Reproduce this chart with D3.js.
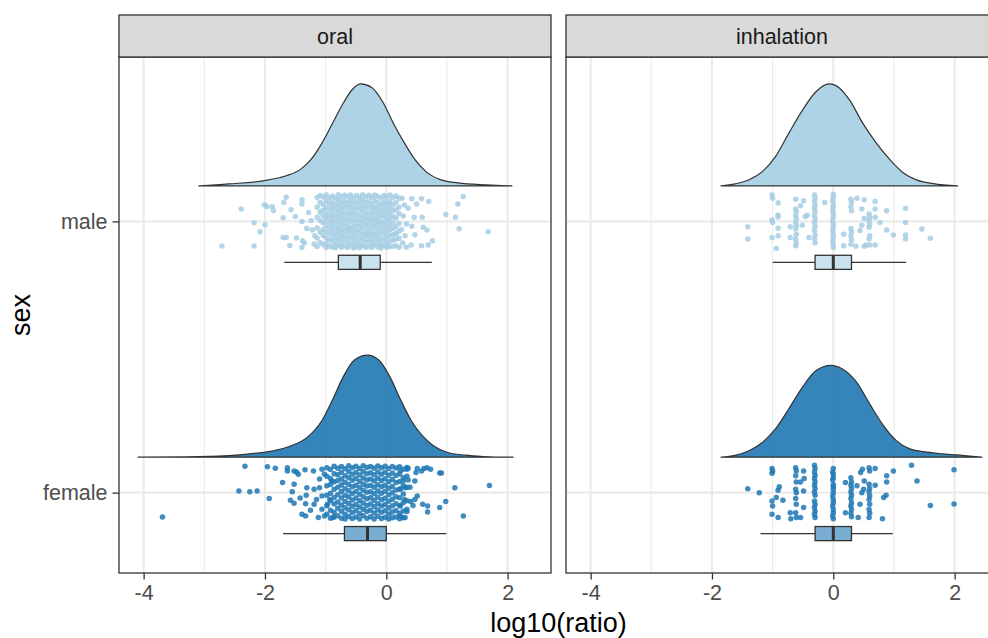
<!DOCTYPE html>
<html>
<head>
<meta charset="utf-8">
<script src="https://cdn.jsdelivr.net/npm/d3@7"></script>
<style>
  html, body { margin: 0; padding: 0; background: #fff; }
  svg { display: block; font-family: "Liberation Sans", Arial, sans-serif; }
</style>
</head>
<body>
<svg id="chart" width="988" height="638"></svg>
<script>
// ---------------- data ----------------
const routes = ["oral", "inhalation"];
const sexes = ["female", "male"];          // y position 1, 2
const xTicks = [-4, -2, 0, 2];
const xMinorTicks = [-3, -1, 1];

// five-number summaries: [lower whisker, q1, median, q3, upper whisker]
const boxOralMale = [-1.68, -0.79, -0.43, -0.10, 0.75];
const boxOralFemale = [-1.70, -0.69, -0.31, 0.00, 0.99];
const boxInhalMale = [-1.00, -0.30, 0.00, 0.30, 1.20];
const boxInhalFemale = [-1.20, -0.30, 0.00, 0.30, 0.98];

// half-violin density profiles: [log10(ratio), density relative to the largest peak]
const densOralMale = [[-3.09,0],[-2.6,0.02],[-2.01,0.052],[-1.65,0.10],[-1.42,0.16],[-1.24,0.26],[-1.06,0.42],[-0.89,0.61],[-0.71,0.81],[-0.56,0.945],[-0.42,1.0],[-0.24,0.964],[-0.06,0.825],[0.12,0.61],[0.30,0.42],[0.47,0.26],[0.65,0.143],[0.89,0.062],[1.18,0.03],[1.65,0.01],[2.07,0]];
const densOralFemale = [[-4.09,0],[-3.31,0.003],[-2.60,0.016],[-2.25,0.033],[-1.89,0.06],[-1.60,0.105],[-1.30,0.197],[-1.06,0.36],[-0.89,0.557],[-0.71,0.787],[-0.53,0.95],[-0.31,1.0],[-0.12,0.95],[0.06,0.787],[0.24,0.557],[0.41,0.36],[0.59,0.213],[0.77,0.115],[1.0,0.049],[1.3,0.02],[1.6,0.007],[2.09,0]];
const densInhalMale = [[-1.85,0],[-1.62,0.02],[-1.39,0.06],[-1.17,0.14],[-0.95,0.29],[-0.73,0.52],[-0.51,0.74],[-0.29,0.92],[-0.07,1.0],[0.10,0.96],[0.27,0.84],[0.49,0.61],[0.71,0.42],[0.93,0.26],[1.15,0.13],[1.37,0.06],[1.65,0.023],[2.05,0]];
const densInhalFemale = [[-1.85,0],[-1.62,0.018],[-1.39,0.063],[-1.17,0.144],[-0.95,0.279],[-0.73,0.477],[-0.51,0.684],[-0.29,0.846],[-0.04,0.9],[0.15,0.864],[0.38,0.738],[0.60,0.522],[0.82,0.315],[1.04,0.162],[1.26,0.081],[1.54,0.05],[1.81,0.032],[2.15,0.016],[2.45,0]];

// observations: [log10(ratio), vertical jitter]
const ptsOralMale = [
  [-2.39,0.046],[-2.71,-0.091],[-2.18,-0.091],[-2.01,0.061],[-1.97,0.055],[-1.88,0.054],[-1.86,0.039],
  [-1.65,0.089],[-1.69,0.070],[-1.39,0.080],[-1.39,0.064],[-1.57,0.043],[-1.70,0.013],[-1.50,0.018],
  [-1.28,0.033],[-2.18,-0.005],[-2.00,-0.012],[-2.08,-0.038],[-1.70,-0.059],[-1.65,-0.059],[-1.48,-0.061],
  [-1.39,0.000],[-1.24,0.003],[-1.31,-0.026],[-1.22,-0.032],[-1.38,-0.071],[-1.35,-0.080],[-1.59,-0.089],
  [-1.39,-0.096],[-1.19,-0.083],[-1.18,-0.053],
  [1.27,0.092],[1.18,0.064],[0.98,0.025],[1.14,0.015],[1.20,-0.027],[1.68,-0.038],[0.42,0.083],[0.58,0.083],
  [0.70,0.073],[0.50,0.064],[0.36,0.048],[0.46,0.015],[0.59,0.015],[0.42,-0.018],[0.61,-0.022],[0.67,-0.032],
  [0.47,-0.049],[0.41,-0.087],[0.58,-0.090],[0.69,-0.087],[0.76,-0.071],[0.15,-0.046],[0.31,-0.053],
  [0.26,0.085],[0.30,0.060],[0.28,0.020],[0.33,-0.010],[0.27,-0.080],[0.33,-0.095],[0.25,-0.030]
];
// dense centre of the oral / male cloud: [log10(ratio), [jitters...]]
const coreOralMale = [
  [-1.14,[0.088,0.052,0.015,-0.024,-0.061,-0.093]],
  [-1.09,[0.095,0.070,0.034,0.002,-0.040,-0.078]],
  [-1.04,[0.090,0.062,0.041,0.020,-0.005,-0.030,-0.052,-0.085]],
  [-0.99,[0.097,0.075,0.049,0.027,0.008,-0.015,-0.038,-0.060,-0.081,-0.096]],
  [-0.94,[0.086,0.064,0.043,0.020,-0.001,-0.022,-0.044,-0.067,-0.090]],
  [-0.89,[0.094,0.071,0.052,0.030,0.011,-0.010,-0.031,-0.050,-0.072,-0.094]],
  [-0.84,[0.087,0.064,0.043,0.022,0.001,-0.020,-0.041,-0.061,-0.082,-0.097]],
  [-0.79,[0.098,0.079,0.058,0.036,0.016,-0.004,-0.026,-0.045,-0.066,-0.088]],
  [-0.74,[0.090,0.069,0.047,0.026,0.006,-0.015,-0.036,-0.056,-0.077,-0.095]],
  [-0.69,[0.096,0.075,0.055,0.033,0.013,-0.007,-0.028,-0.048,-0.069,-0.091]],
  [-0.64,[0.092,0.068,0.049,0.028,0.005,-0.017,-0.035,-0.058,-0.079,-0.096]],
  [-0.59,[0.097,0.077,0.054,0.034,0.018,-0.002,-0.024,-0.044,-0.064,-0.086]],
  [-0.54,[0.089,0.066,0.045,0.024,0.003,-0.019,-0.039,-0.059,-0.080,-0.098]],
  [-0.49,[0.095,0.073,0.051,0.031,0.010,-0.011,-0.032,-0.052,-0.073,-0.093]],
  [-0.44,[0.088,0.067,0.046,0.023,0.002,-0.018,-0.040,-0.062,-0.083,-0.097]],
  [-0.39,[0.098,0.078,0.057,0.037,0.015,-0.005,-0.025,-0.047,-0.067,-0.089]],
  [-0.34,[0.091,0.070,0.048,0.027,0.007,-0.014,-0.037,-0.055,-0.076,-0.095]],
  [-0.29,[0.096,0.074,0.056,0.032,0.012,-0.008,-0.029,-0.049,-0.070,-0.092]],
  [-0.24,[0.089,0.065,0.044,0.025,0.004,-0.016,-0.038,-0.057,-0.078,-0.096]],
  [-0.19,[0.097,0.076,0.053,0.035,0.014,-0.003,-0.023,-0.046,-0.065,-0.087]],
  [-0.14,[0.092,0.069,0.050,0.029,0.009,-0.012,-0.033,-0.053,-0.074,-0.094]],
  [-0.09,[0.087,0.063,0.042,0.021,0.000,-0.021,-0.042,-0.063,-0.084,-0.098]],
  [-0.04,[0.095,0.074,0.056,0.034,0.017,-0.006,-0.027,-0.046,-0.068,-0.090]],
  [0.01,[0.090,0.066,0.045,0.024,0.004,-0.017,-0.036,-0.058,-0.079,-0.096]],
  [0.06,[0.097,0.072,0.051,0.030,0.010,-0.011,-0.031,-0.051,-0.072,-0.093]],
  [0.11,[0.088,0.061,0.040,0.018,-0.005,-0.026,-0.049,-0.070,-0.092]],
  [0.16,[0.094,0.070,0.043,0.012,-0.020,-0.045,-0.066,-0.090]],
  [0.21,[0.085,0.052,0.028,-0.008,-0.036,-0.062,-0.095]]
];

const ptsOralFemale = [
  [-3.69,-0.090],[-2.33,0.097],[-2.43,0.006],[-2.25,0.003],[-2.13,0.006],[-1.96,0.095],[-1.83,0.090],
  [-1.93,-0.022],[-1.71,0.037],[-1.63,0.092],[-1.63,0.080],[-1.52,0.080],[-1.48,0.076],[-1.45,0.068],
  [-1.34,0.084],[-1.52,0.031],[-1.55,0.003],[-1.31,0.018],[-1.32,-0.010],[-1.42,-0.020],[-1.58,-0.028],
  [-1.52,-0.039],[-1.33,-0.041],[-1.39,-0.080],[-1.33,-0.086],
  [-1.20,0.080],[-1.06,0.086],[-1.02,0.068],[-0.90,0.043],[-1.19,0.012],[-1.10,0.018],[-1.15,-0.025],
  [-1.06,-0.012],[-0.93,-0.025],[-1.19,-0.043],[-1.06,-0.061],[-0.97,-0.043],[-1.12,-0.092],[-1.02,-0.086],
  [-0.88,-0.092],[-1.25,-0.065],[-1.10,0.050],
  [0.23,0.080],[0.34,0.086],[0.28,0.043],[0.36,0.047],[0.23,0.012],[0.31,0.018],[0.30,-0.025],[0.40,-0.033],
  [0.23,-0.049],[0.34,-0.061],[0.23,-0.086],[0.31,-0.092],[0.39,0.020],
  [1.27,-0.086],[1.13,0.018],[0.98,-0.033],[0.88,0.072],[0.91,0.072],[0.88,-0.055],[0.68,-0.049],
  [0.68,-0.071],[0.60,-0.043],[0.51,-0.012],[0.47,-0.025],[0.44,-0.047],[0.73,0.086],[0.62,0.089],
  [0.58,0.080],[0.67,0.092],[0.47,0.043],[0.49,0.074],[0.51,0.089],[0.36,0.090],[1.70,0.026]
];
const coreOralFemale = [
  [-0.98,[0.092,0.060,0.025,-0.010,-0.048,-0.080]],
  [-0.92,[0.085,0.052,0.030,-0.002,-0.030,-0.065,-0.094]],
  [-0.86,[0.097,0.070,0.040,0.012,-0.018,-0.042,-0.072,-0.090]],
  [-0.80,[0.090,0.066,0.045,0.020,-0.008,-0.035,-0.058,-0.085]],
  [-0.74,[0.096,0.075,0.050,0.028,0.004,-0.020,-0.046,-0.069,-0.094]],
  [-0.68,[0.088,0.062,0.038,0.014,-0.010,-0.033,-0.056,-0.080,-0.097]],
  [-0.62,[0.099,0.078,0.055,0.030,0.007,-0.016,-0.040,-0.063,-0.088]],
  [-0.56,[0.092,0.068,0.046,0.022,-0.003,-0.027,-0.050,-0.073,-0.095]],
  [-0.50,[0.097,0.074,0.052,0.027,0.004,-0.020,-0.044,-0.066,-0.090]],
  [-0.44,[0.089,0.065,0.041,0.018,-0.006,-0.030,-0.053,-0.077,-0.097]],
  [-0.38,[0.099,0.077,0.054,0.031,0.009,-0.015,-0.038,-0.061,-0.085]],
  [-0.32,[0.093,0.070,0.047,0.024,0.001,-0.023,-0.047,-0.070,-0.094]],
  [-0.26,[0.096,0.073,0.050,0.026,0.003,-0.019,-0.042,-0.065,-0.089]],
  [-0.20,[0.090,0.066,0.043,0.020,-0.004,-0.028,-0.051,-0.075,-0.097]],
  [-0.14,[0.098,0.076,0.053,0.029,0.006,-0.017,-0.041,-0.064,-0.087]],
  [-0.08,[0.092,0.068,0.045,0.022,-0.002,-0.026,-0.049,-0.072,-0.095]],
  [-0.02,[0.097,0.075,0.051,0.027,0.005,-0.021,-0.044,-0.067,-0.091]],
  [0.04,[0.089,0.064,0.040,0.016,-0.008,-0.032,-0.056,-0.079,-0.097]],
  [0.10,[0.096,0.072,0.048,0.023,0.000,-0.024,-0.048,-0.071,-0.093]],
  [0.16,[0.091,0.063,0.037,0.010,-0.015,-0.041,-0.066,-0.090]],
  [0.22,[0.095,0.069,0.041,0.013,-0.019,-0.047,-0.076,-0.096]],
  [0.28,[0.086,0.055,0.025,-0.005,-0.037,-0.068,-0.093]],
  [0.34,[0.093,0.060,0.020,-0.030,-0.070]]
];

const ptsInhalMale = [
  [-1.41,-0.020],[-1.41,-0.065],
  [-1.01,0.097],[-1.00,0.085],[-1.01,0.005],[-1.00,-0.004],[-1.01,-0.059],[-0.94,-0.100],
  [-0.91,0.068],[-0.91,0.023],[-0.91,0.016],[-0.91,-0.025],[-0.91,-0.053],
  [-0.71,-0.020],[-0.71,-0.059],
  [-0.62,0.082],[-0.62,0.046],[-0.61,0.036],[-0.62,0.023],[-0.61,0.011],[-0.62,-0.004],[-0.61,-0.016],
  [-0.62,-0.028],[-0.61,-0.047],[-0.62,-0.065],[-0.61,-0.080],[-0.62,-0.090],
  [-0.54,0.058],[-0.49,0.076],[-0.51,-0.014],[-0.46,0.018],[-0.40,-0.059],[-0.43,0.023],
  [-0.31,0.097],[-0.30,0.085],[-0.31,0.073],[-0.30,0.060],[-0.31,0.048],[-0.30,0.036],[-0.31,0.021],
  [-0.30,0.009],[-0.31,-0.004],[-0.30,-0.018],[-0.31,-0.034],[-0.30,-0.050],[-0.31,-0.065],[-0.30,-0.080],
  [-0.14,0.070],
  [0.00,0.100],[0.00,0.089],[-0.01,0.076],[0.00,0.064],[0.00,0.052],[-0.01,0.039],[0.00,0.027],[0.00,0.015],
  [-0.01,0.002],[0.00,-0.010],[0.00,-0.022],[-0.01,-0.034],[0.00,-0.047],[0.00,-0.059],[-0.01,-0.071],
  [0.00,-0.084],[0.00,-0.096],
  [0.17,-0.047],[0.17,-0.090],
  [0.29,0.082],[0.30,0.070],[0.29,0.055],[0.30,0.039],[0.29,-0.026],[0.30,-0.038],[0.29,-0.053],
  [0.30,-0.068],[0.29,-0.084],
  [0.39,0.085],[0.47,0.046],[0.37,-0.092],[0.44,-0.034],[0.47,-0.014],[0.51,0.080],[0.51,0.011],[0.51,-0.092],
  [0.59,0.027],[0.60,0.015],[0.59,0.002],[0.60,-0.010],[0.59,-0.022],[0.60,-0.053],[0.59,-0.065],
  [0.60,-0.087],[0.54,-0.087],
  [0.69,0.073],[0.69,0.046],[0.69,0.015],[0.69,-0.087],[0.77,-0.004],[0.88,0.039],[0.88,-0.032],[0.99,-0.050],
  [1.19,0.048],[1.19,-0.004],[1.19,-0.050],[1.19,-0.065],
  [1.46,-0.028],[1.60,-0.062]
];

const ptsInhalFemale = [
  [-1.41,0.014],[-1.22,0.000],
  [-1.01,0.089],[-1.00,0.080],[-1.01,0.071],[-1.01,-0.031],[-1.00,-0.049],[-1.01,-0.080],
  [-0.94,-0.018],[-0.91,0.009],[-0.89,0.022],[-0.91,-0.092],[-0.83,-0.028],
  [-0.62,0.092],[-0.61,0.080],[-0.62,0.062],[-0.61,0.039],[-0.62,0.012],[-0.61,0.000],[-0.62,-0.022],
  [-0.61,-0.043],[-0.62,-0.074],[-0.61,-0.092],
  [-0.71,-0.074],[-0.70,-0.096],[-0.54,-0.092],[-0.54,0.039],[-0.49,0.080],[-0.48,0.052],[-0.49,0.006],
  [-0.49,-0.055],
  [-0.31,0.101],[-0.30,0.089],[-0.31,0.076],[-0.30,0.064],[-0.31,0.052],[-0.30,0.039],[-0.31,0.027],
  [-0.30,0.015],[-0.31,0.002],[-0.30,-0.010],[-0.31,-0.031],[-0.30,-0.043],[-0.31,-0.055],[-0.30,-0.068],
  [-0.31,-0.080],[-0.30,-0.092],
  [0.00,0.089],[-0.01,0.076],[0.00,0.068],[0.00,0.055],[-0.01,0.047],[0.00,0.030],[0.00,0.022],[0.00,0.012],
  [0.00,0.000],[-0.01,-0.012],[0.00,-0.025],[0.00,-0.037],[-0.01,-0.049],[0.00,-0.062],[0.00,-0.074],
  [-0.01,-0.086],[0.00,-0.096],
  [0.20,0.037],[0.20,-0.074],
  [0.29,0.055],[0.30,0.039],[0.29,0.027],[0.30,0.015],[0.29,0.002],[0.30,-0.010],[0.29,-0.022],
  [0.30,-0.037],[0.29,-0.049],[0.30,-0.062],[0.29,-0.076],[0.30,-0.089],
  [0.39,0.025],[0.41,-0.092],[0.44,-0.043],[0.45,0.074],[0.48,0.086],[0.47,0.000],[0.51,0.043],[0.50,0.012],
  [0.59,0.092],[0.60,0.080],[0.59,0.031],[0.60,0.015],[0.59,0.002],[0.60,-0.012],[0.59,-0.025],
  [0.60,-0.043],[0.59,-0.062],[0.60,-0.076],[0.59,-0.092],
  [0.69,0.089],[0.69,0.027],[0.81,-0.096],[0.83,-0.018],[0.87,-0.010],[0.88,0.062],[0.88,0.039],[0.99,0.080],
  [1.29,0.101],[1.38,0.043],[1.60,-0.047],[1.99,0.084],[1.99,-0.042]
];

// ---------------- layout & style ----------------
const W = 988, H = 638;
const PANEL_LEFT = [119, 566];
const PANEL_W = 432;
const STRIP_TOP = 15, PANEL_TOP = 57, PANEL_BOTTOM = 573;
const X_DOMAIN = [-4.406, 2.715];
const Y_DOMAIN = [0.7037, 2.606];
const FILL = { male: "#A6CEE3", female: "#1F78B4" };
const DENS_BASE = 0.1306, DENS_HEIGHT = 0.3764;   // y units
const BOX_POS = -0.151, BOX_HALF = 0.026;
const PT_R = 2.75;
const INK = "#333333";

const groups = [
  { route: "oral", sex: "male", dens: densOralMale, box: boxOralMale, pts: ptsOralMale, core: coreOralMale },
  { route: "oral", sex: "female", dens: densOralFemale, box: boxOralFemale, pts: ptsOralFemale, core: coreOralFemale },
  { route: "inhalation", sex: "male", dens: densInhalMale, box: boxInhalMale, pts: ptsInhalMale, core: [] },
  { route: "inhalation", sex: "female", dens: densInhalFemale, box: boxInhalFemale, pts: ptsInhalFemale, core: [] }
];

const svg = d3.select("#chart");
svg.append("rect").attr("width", W).attr("height", H).attr("fill", "#fff");

const x = d3.scaleLinear().domain(X_DOMAIN).range([0, PANEL_W]);
const y = d3.scaleLinear().domain(Y_DOMAIN).range([PANEL_BOTTOM, PANEL_TOP]);
const sexPos = s => sexes.indexOf(s) + 1;

routes.forEach((route, pi) => {
  const g = svg.append("g").attr("transform", `translate(${PANEL_LEFT[pi]},0)`);

  // panel background + grid
  g.append("rect").attr("x", 0).attr("y", PANEL_TOP).attr("width", PANEL_W)
    .attr("height", PANEL_BOTTOM - PANEL_TOP).attr("fill", "#fff");
  g.selectAll(".minor").data(xMinorTicks).join("line")
    .attr("x1", d => x(d)).attr("x2", d => x(d))
    .attr("y1", PANEL_TOP).attr("y2", PANEL_BOTTOM)
    .attr("stroke", "#EBEBEB").attr("stroke-width", 1.1);
  g.selectAll(".major").data(xTicks).join("line")
    .attr("x1", d => x(d)).attr("x2", d => x(d))
    .attr("y1", PANEL_TOP).attr("y2", PANEL_BOTTOM)
    .attr("stroke", "#EBEBEB").attr("stroke-width", 2.1);
  g.selectAll(".hmajor").data(sexes).join("line")
    .attr("x1", 0).attr("x2", PANEL_W)
    .attr("y1", d => y(sexPos(d))).attr("y2", d => y(sexPos(d)))
    .attr("stroke", "#EBEBEB").attr("stroke-width", 2.1);

  groups.filter(d => d.route === route).forEach(grp => {
    const c = sexPos(grp.sex);
    const col = FILL[grp.sex];

    // half violin
    const area = d3.area()
      .x(d => x(d[0]))
      .y0(y(c + DENS_BASE))
      .y1(d => y(c + DENS_BASE + d[1] * DENS_HEIGHT))
      .curve(d3.curveMonotoneX);
    g.append("path").datum(grp.dens).attr("d", area)
      .attr("fill", col).attr("fill-opacity", 0.9)
      .attr("stroke", INK).attr("stroke-width", 1.2).attr("stroke-linejoin", "round");

    // jittered observations
    const pts = grp.pts.concat(grp.core.flatMap(([v, js]) => js.map(j => [v, j])));
    g.append("g").selectAll("circle").data(pts).join("circle")
      .attr("cx", d => x(d[0])).attr("cy", d => y(c + d[1]))
      .attr("r", PT_R).attr("fill", col).attr("fill-opacity", 0.85);

    // box plot
    const [lo, q1, med, q3, hi] = grp.box;
    const by = y(c + BOX_POS);
    const bg = g.append("g");
    bg.append("line").attr("x1", x(lo)).attr("x2", x(q1)).attr("y1", by).attr("y2", by)
      .attr("stroke", INK).attr("stroke-width", 1.2);
    bg.append("line").attr("x1", x(q3)).attr("x2", x(hi)).attr("y1", by).attr("y2", by)
      .attr("stroke", INK).attr("stroke-width", 1.2);
    bg.append("rect").attr("x", x(q1)).attr("width", x(q3) - x(q1))
      .attr("y", y(c + BOX_POS + BOX_HALF)).attr("height", y(c + BOX_POS - BOX_HALF) - y(c + BOX_POS + BOX_HALF))
      .attr("fill", col).attr("fill-opacity", 0.6)
      .attr("stroke", INK).attr("stroke-width", 1.3);
    bg.append("line").attr("x1", x(med)).attr("x2", x(med))
      .attr("y1", y(c + BOX_POS + BOX_HALF)).attr("y2", y(c + BOX_POS - BOX_HALF))
      .attr("stroke", INK).attr("stroke-width", 3);
  });

  // panel border
  g.append("rect").attr("x", 0).attr("y", PANEL_TOP).attr("width", PANEL_W)
    .attr("height", PANEL_BOTTOM - PANEL_TOP).attr("fill", "none")
    .attr("stroke", INK).attr("stroke-width", 1.3);

  // strip
  g.append("rect").attr("x", 0).attr("y", STRIP_TOP).attr("width", PANEL_W)
    .attr("height", PANEL_TOP - STRIP_TOP).attr("fill", "#D9D9D9")
    .attr("stroke", INK).attr("stroke-width", 1.3);
  g.append("text").attr("x", PANEL_W / 2).attr("y", (STRIP_TOP + PANEL_TOP) / 2 + 7.5)
    .attr("text-anchor", "middle").attr("font-size", 21.5).attr("fill", "#1A1A1A").text(route);

  // x axis
  const ax = g.append("g").attr("transform", `translate(0,${PANEL_BOTTOM})`)
    .call(d3.axisBottom(x).tickValues(xTicks).tickSize(6.5).tickPadding(5).tickFormat(d3.format("d")));
  ax.select(".domain").remove();
  ax.selectAll(".tick line").attr("stroke", INK).attr("stroke-width", 1.3);
  ax.selectAll(".tick text").attr("font-size", 21.5).attr("fill", "#4D4D4D")
    .attr("font-family", "Liberation Sans, Arial, sans-serif")
    .text(d => d < 0 ? "-" + Math.abs(d) : String(d));
});

// y axis (left panel only)
const ay = svg.append("g").attr("transform", `translate(${PANEL_LEFT[0]},0)`)
  .call(d3.axisLeft(y).tickValues(sexes.map(sexPos)).tickSize(6.5).tickPadding(5)
    .tickFormat(v => sexes[v - 1]));
ay.select(".domain").remove();
ay.selectAll(".tick line").attr("stroke", INK).attr("stroke-width", 1.3);
ay.selectAll(".tick text").attr("font-size", 21.5).attr("fill", "#4D4D4D")
  .attr("font-family", "Liberation Sans, Arial, sans-serif");

// axis titles
svg.append("text").attr("x", (PANEL_LEFT[0] + PANEL_LEFT[1] + PANEL_W) / 2).attr("y", 632)
  .attr("text-anchor", "middle").attr("font-size", 27).attr("fill", "#000").text("log10(ratio)");
svg.append("text").attr("transform", `translate(30,${(PANEL_TOP + PANEL_BOTTOM) / 2}) rotate(-90)`)
  .attr("text-anchor", "middle").attr("font-size", 27).attr("fill", "#000").text("sex");
</script>
</body>
</html>
